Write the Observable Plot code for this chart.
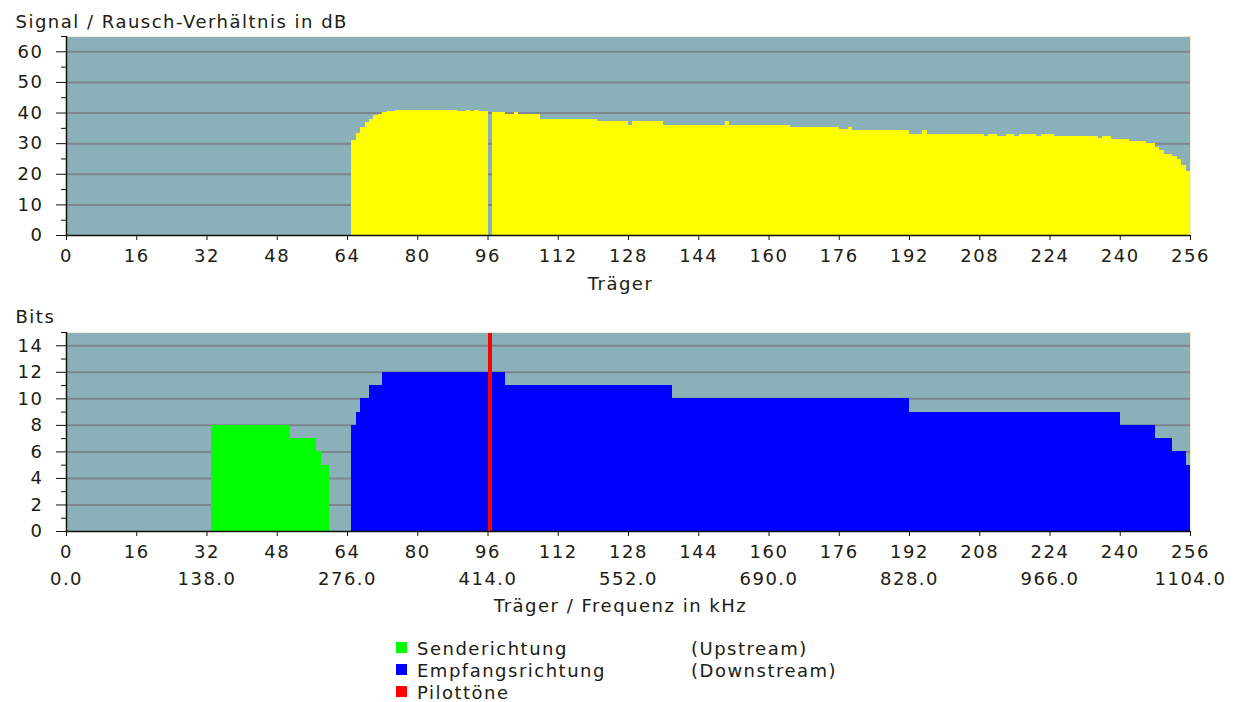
<!DOCTYPE html>
<html>
<head>
<meta charset="utf-8">
<script src="https://cdn.jsdelivr.net/npm/d3@7"></script>
<script src="https://cdn.jsdelivr.net/npm/@observablehq/plot@0.6"></script>
<style>
  html, body { margin: 0; padding: 0; background: #ffffff; }
  body { width: 1240px; height: 702px; overflow: hidden; position: relative;
         font-family: "DejaVu Sans", sans-serif; color: #202010; }
  #topChart, #bottomChart { display: block; }
  #topChart svg, #bottomChart svg { display: block; }
  .lg { position: absolute; font-size: 18px; line-height: 22px; letter-spacing: 1.5px; white-space: nowrap; }
  .sw { position: absolute; width: 11px; height: 11px; }
</style>
</head>
<body>
<div id="topChart"></div>
<div id="bottomChart"></div>
<div id="legend"></div>
<script>
// ---------- data ----------
const xTicks = [0, 16, 32, 48, 64, 80, 96, 112, 128, 144, 160, 176, 192, 208, 224, 240, 256];
const freqTicks = [0, 32, 64, 96, 128, 160, 192, 224, 256];
const khzPerCarrier = 4.3125;

const snrTicks = [0, 10, 20, 30, 40, 50, 60];
const snrMinorTicks = [5, 15, 25, 35, 45, 55, 65];
const snrMax = 65;

const bitsTicks = [0, 2, 4, 6, 8, 10, 12, 14];
const bitsMinorTicks = [1, 3, 5, 7, 9, 11, 13, 15];
const bitsMax = 15;

// SNR per carrier, as runs [firstCarrier, lastCarrier, dB]
const snrRuns = [
  [65,65,31.0],[66,66,33.2],[67,67,35.3],[68,68,36.9],[69,69,37.8],[70,70,39.1],
  [71,71,39.5],[72,72,40.2],[73,74,40.4],[75,88,40.8],[89,90,40.4],[91,91,40.8],
  [92,92,40.4],[93,93,40.8],[94,95,40.4],[97,99,40.2],[100,101,39.5],[102,102,40.2],
  [103,107,39.5],[108,120,37.8],[121,127,37.2],[128,128,36.0],[129,135,37.2],
  [136,149,36.0],[150,150,37.2],[151,164,36.0],[165,175,35.3],[176,177,34.7],
  [178,178,35.3],[179,191,34.4],[192,194,32.9],[195,195,34.3],[196,208,32.9],
  [209,209,32.5],[210,211,32.9],[212,213,32.5],[214,215,32.9],[216,216,32.5],
  [217,220,32.9],[221,221,32.5],[222,224,32.9],[225,234,32.5],[235,235,31.8],
  [236,237,32.3],[238,241,31.3],[242,245,30.6],[246,247,29.9],[248,248,28.8],
  [249,249,27.7],[250,251,26.6],[252,252,25.8],[253,253,24.7],[254,254,22.8],
  [255,255,21.0]
];

// Bits per carrier, as runs [firstCarrier, lastCarrier, bits]
const upstreamRuns = [[33,50,8],[51,56,7],[57,57,6],[58,59,5]];
const downstreamRuns = [
  [65,65,8],[66,66,9],[67,68,10],[69,71,11],[72,99,12],[100,137,11],
  [138,191,10],[192,239,9],[240,247,8],[248,251,7],[252,254,6],[255,255,5]
];
const pilotCarriers = [96];

const legendLabels = ["Senderichtung", "Empfangsrichtung", "Pilottöne"];
const legendNotes = ["(Upstream)", "(Downstream)", ""];
const legendColors = ["#00ff00", "#0000ff", "#ff0000"];

// ---------- helpers ----------
function expand(runs) {
  const out = [];
  for (const [a, b, v] of runs) for (let c = a; c <= b; c++) out.push({c, v});
  return out;
}
const snr = expand(snrRuns);
const up = expand(upstreamRuns);
const down = expand(downstreamRuns);

const BG = "#8ab0ba";
const GRID = "#80848c";
const AXIS = "#101008";
const FRAME_LIGHT = "#eeeec8";
const style = {fontFamily: "DejaVu Sans", fontSize: "18px", letterSpacing: "1.5px",
               color: "#202010", background: "transparent", overflow: "visible"};

const common = {
  width: 1240, marginLeft: 66, marginRight: 50,
  x: {domain: [0, 256], label: null, axis: null},
  style
};

// ---------- top chart: SNR ----------
const topPlot = Plot.plot({
  ...common,
  height: 300, marginTop: 36, marginBottom: 65,
  y: {domain: [0, snrMax], label: null, axis: null},
  marks: [
    Plot.frame({fill: BG, stroke: null}),
    Plot.ruleY(snrTicks.filter(d => d > 0), {stroke: GRID, strokeWidth: 2}),
    Plot.rectY(snr, {x1: "c", x2: d => d.c + 1, y: "v", fill: "#ffff00", shapeRendering: "crispEdges"}),
    Plot.ruleY([snrMax], {stroke: FRAME_LIGHT, strokeWidth: 1}),
    Plot.ruleX([256], {stroke: FRAME_LIGHT, strokeWidth: 1}),
    Plot.ruleX([0], {stroke: AXIS, strokeWidth: 1.5}),
    Plot.ruleY([0], {stroke: AXIS, strokeWidth: 1.5}),
    Plot.axisY(snrTicks, {tickSize: 10, tickPadding: 13, stroke: AXIS}),
    Plot.axisY(snrMinorTicks, {tickSize: 5, tickFormat: () => "", stroke: AXIS}),
    Plot.axisX(xTicks, {tickSize: 5, tickPadding: 9, stroke: AXIS}),
    Plot.text(["Träger"], {text: d => d, frameAnchor: "bottom", dx: -8, dy: 49, lineAnchor: "middle"}),
    Plot.text(["Signal / Rausch-Verhältnis in dB"], {text: d => d, frameAnchor: "top-left",
      dx: -51, dy: -9, textAnchor: "start", lineAnchor: "bottom"})
  ]
});
document.getElementById("topChart").append(topPlot);

// ---------- bottom chart: bits ----------
const bottomPlot = Plot.plot({
  ...common,
  height: 320, marginTop: 32, marginBottom: 89,
  y: {domain: [0, bitsMax], label: null, axis: null},
  marks: [
    Plot.frame({fill: BG, stroke: null}),
    Plot.ruleY(bitsTicks.filter(d => d > 0), {stroke: GRID, strokeWidth: 2}),
    Plot.rectY(up, {x1: "c", x2: d => d.c + 1, y: "v", fill: "#00ff00", shapeRendering: "crispEdges"}),
    Plot.rectY(down, {x1: "c", x2: d => d.c + 1, y: "v", fill: "#0000ff", shapeRendering: "crispEdges"}),
    Plot.rectY(pilotCarriers, {x1: d => d, x2: d => d + 1, y1: 0, y2: bitsMax, fill: "#ff0000", shapeRendering: "crispEdges"}),
    Plot.ruleY([bitsMax], {stroke: FRAME_LIGHT, strokeWidth: 1}),
    Plot.ruleX([256], {stroke: FRAME_LIGHT, strokeWidth: 1}),
    Plot.ruleX([0], {stroke: AXIS, strokeWidth: 1.5}),
    Plot.ruleY([0], {stroke: AXIS, strokeWidth: 1.5}),
    Plot.axisY(bitsTicks, {tickSize: 10, tickPadding: 13, stroke: AXIS}),
    Plot.axisY(bitsMinorTicks, {tickSize: 5, tickFormat: () => "", stroke: AXIS}),
    Plot.axisX(xTicks, {tickSize: 5, tickPadding: 9, stroke: AXIS}),
    Plot.axisX(freqTicks, {tickSize: 0, tickPadding: 41, tickFormat: d => (d * khzPerCarrier).toFixed(1)}),
    Plot.text(["Träger / Frequenz in kHz"], {text: d => d, frameAnchor: "bottom", dx: -8, dy: 75, lineAnchor: "middle"}),
    Plot.text(["Bits"], {text: d => d, frameAnchor: "top-left",
      dx: -51, dy: -10, textAnchor: "start", lineAnchor: "bottom"})
  ]
});
document.getElementById("bottomChart").append(bottomPlot);

// ---------- legend ----------
const legend = document.getElementById("legend");
legendLabels.forEach((label, i) => {
  const top = 638 + i * 22;
  const sw = document.createElement("div");
  sw.className = "sw";
  sw.style.left = "396px";
  sw.style.top = (top + 4) + "px";
  sw.style.background = legendColors[i];
  legend.append(sw);
  const t = document.createElement("div");
  t.className = "lg";
  t.style.left = "417px";
  t.style.top = top + "px";
  t.textContent = label;
  legend.append(t);
  if (legendNotes[i]) {
    const n = document.createElement("div");
    n.className = "lg";
    n.style.left = "691px";
    n.style.top = top + "px";
    n.textContent = legendNotes[i];
    legend.append(n);
  }
});
</script>
</body>
</html>
